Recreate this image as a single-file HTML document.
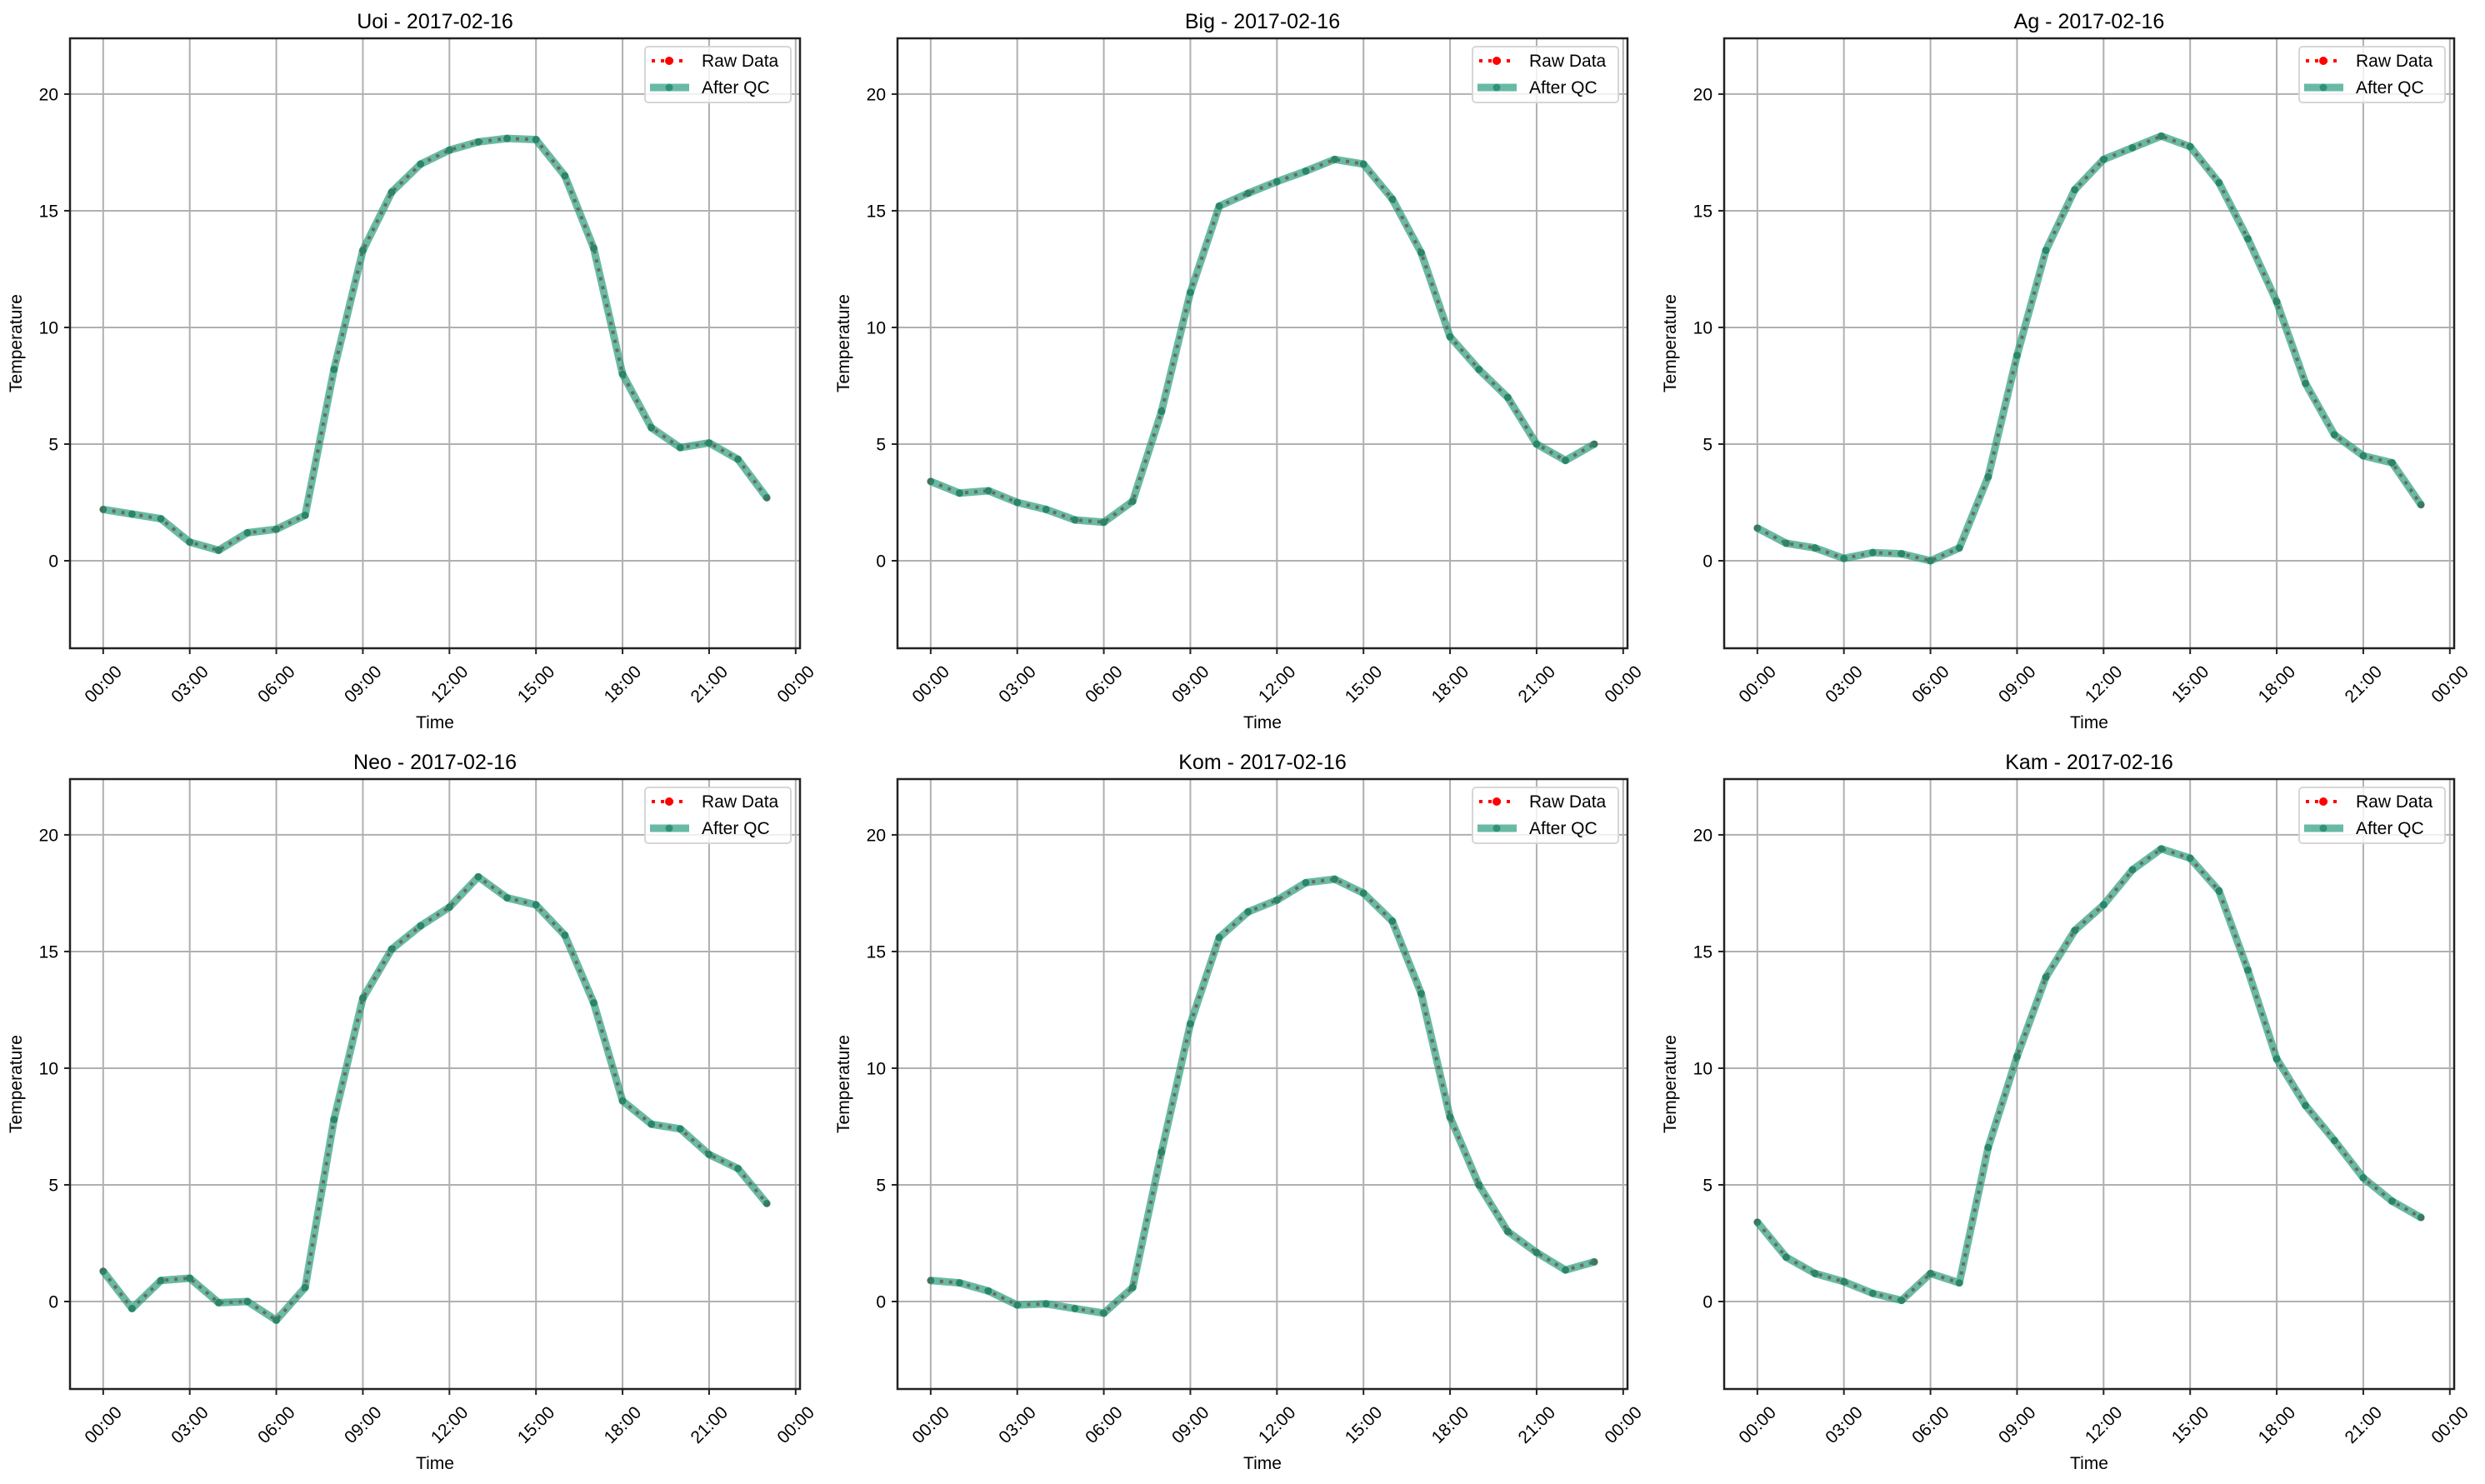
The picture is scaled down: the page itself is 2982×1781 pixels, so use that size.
<!DOCTYPE html>
<html><head><meta charset="utf-8"><style>
html,body{margin:0;padding:0;background:#fff;}
svg{display:block;font-family:"Liberation Sans","DejaVu Sans",sans-serif;}
</style></head><body>
<svg id="fig" width="2982" height="1781" viewBox="0 0 2982 1781" xmlns="http://www.w3.org/2000/svg"></svg>
<script>
const stations = ["Uoi","Big","Ag","Neo","Kom","Kam"];
const dateLabel = "2017-02-16";
const hours = [0,1,2,3,4,5,6,7,8,9,10,11,12,13,14,15,16,17,18,19,20,21,22,23];
const uoiTemps = [2.2,2.0,1.8,0.8,0.45,1.2,1.35,1.95,8.2,13.3,15.8,17.0,17.6,17.95,18.1,18.05,16.5,13.4,8.0,5.7,4.85,5.05,4.35,2.7];
const bigTemps = [3.4,2.9,3.0,2.5,2.2,1.75,1.65,2.55,6.4,11.5,15.2,15.75,16.25,16.7,17.2,17.0,15.5,13.2,9.6,8.2,7.0,5.0,4.3,5.0];
const agTemps = [1.4,0.75,0.55,0.1,0.35,0.3,0.0,0.55,3.6,8.8,13.3,15.9,17.2,17.7,18.2,17.75,16.2,13.8,11.1,7.6,5.4,4.5,4.2,2.4];
const neoTemps = [1.3,-0.3,0.9,1.0,-0.05,0.0,-0.8,0.6,7.8,13.0,15.1,16.1,16.9,18.2,17.3,17.0,15.7,12.8,8.6,7.6,7.4,6.3,5.7,4.2];
const komTemps = [0.9,0.8,0.45,-0.15,-0.1,-0.3,-0.5,0.6,6.4,11.9,15.6,16.7,17.2,17.95,18.1,17.5,16.3,13.2,7.9,5.0,3.0,2.1,1.35,1.7];
const kamTemps = [3.4,1.9,1.2,0.85,0.35,0.05,1.2,0.8,6.6,10.5,13.9,15.9,17.0,18.5,19.4,19.0,17.6,14.2,10.4,8.4,6.9,5.3,4.3,3.6];
const xTickHours = [0,3,6,9,12,15,18,21,24];
const xTickLabels = ["00:00","03:00","06:00","09:00","12:00","15:00","18:00","21:00","00:00"];
const yTicks = [0,5,10,15,20];
const yTickLabels = ["0","5","10","15","20"];

const seriesList = [uoiTemps,bigTemps,agTemps,neoTemps,komTemps,kamTemps];
const NS="http://www.w3.org/2000/svg";
const svg=document.getElementById('fig');
function mk(tag,attrs,parent){const e=document.createElementNS(NS,tag);for(const k in attrs)e.setAttribute(k,attrs[k]);(parent||svg).appendChild(e);return e;}

const PW=876, PH=732;
const colX=[84,1077,2069], rowY=[46,935];
const xMin=-1.15, xMax=24.15, yMin=-3.75, yMax=22.39;
const QC='#2a9d7f';

seriesList.forEach((vals,i)=>{
  const L=colX[i%3], T=rowY[Math.floor(i/3)];
  const sx=h=>L+(h-xMin)/(xMax-xMin)*PW;
  const sy=v=>T+PH-(v-yMin)/(yMax-yMin)*PH;
  const g=mk('g',{});
  
  
  xTickHours.forEach(h=>{const l=mk('line',{x1:sx(h),x2:sx(h),y1:T,y2:T+PH,stroke:'#b0b0b0','stroke-width':2},g);
    });
  yTicks.forEach(v=>{const l=mk('line',{x1:L,x2:L+PW,y1:sy(v),y2:sy(v),stroke:'#b0b0b0','stroke-width':2},g);
    });
  const pts=hours.map((h,k)=>sx(h)+','+sy(vals[k])).join(' ');
  const raw=mk('polyline',{points:pts,fill:'none',stroke:'#ff0000','stroke-width':4,'stroke-dasharray':'4 7'},g);
  
  hours.forEach((h,k)=>{const c=mk('circle',{cx:sx(h),cy:sy(vals[k]),r:4,fill:'#ff0000'},g);
    });
  const qc=mk('polyline',{points:pts,fill:'none',stroke:QC,'stroke-opacity':0.7,'stroke-width':9,'stroke-linejoin':'round'},g);
  
  hours.forEach((h,k)=>{const c=mk('circle',{cx:sx(h),cy:sy(vals[k]),r:4.5,fill:'#1e8a6a','fill-opacity':0.8},g);
    });
  const fr=mk('rect',{x:L,y:T,width:PW,height:PH,fill:'none',stroke:'#222','stroke-width':2.5},g);
  
  xTickHours.forEach((h,k)=>{
    const tk=mk('line',{x1:sx(h),x2:sx(h),y1:T+PH,y2:T+PH+7,stroke:'#222','stroke-width':2},g);
    
    const cx=sx(h), cy=T+PH+43;
    const t=mk('text',{x:cx,y:cy+7,'text-anchor':'middle','font-size':21,fill:'#000',transform:`rotate(-45 ${cx} ${cy})`},g);
    t.textContent=xTickLabels[k];
    
  });
  yTicks.forEach((v,k)=>{
    const tk=mk('line',{x1:L-7,x2:L,y1:sy(v),y2:sy(v),stroke:'#222','stroke-width':2},g);
    
    const t=mk('text',{x:L-14,y:sy(v)+7.5,'text-anchor':'end','font-size':21,fill:'#000'},g);
    t.textContent=yTickLabels[k];
    
  });
  const ti=mk('text',{x:L+PW/2,y:T-12,'text-anchor':'middle','font-size':25,fill:'#000'},g);
  ti.textContent=stations[i]+' - '+dateLabel;
  
  const xl=mk('text',{x:L+PW/2,y:T+PH+96,'text-anchor':'middle','font-size':21,fill:'#000'},g);
  xl.textContent='Time';
  
  const yx=L-58, yy=T+PH/2;
  const yl=mk('text',{x:yx,y:yy,'text-anchor':'middle','font-size':21,fill:'#000',transform:`rotate(-90 ${yx} ${yy})`},g);
  yl.textContent='Temperature';
  
  const lx=L+PW-186, ly=T+10;
  const lg=mk('g',{},g);
  
  mk('rect',{x:lx,y:ly,width:175,height:67,rx:4,fill:'#fff','fill-opacity':0.8,stroke:'#d6d6d6','stroke-width':2},lg);
  mk('line',{x1:lx+8,x2:lx+46,y1:ly+17,y2:ly+17,stroke:'#ff0000','stroke-width':4,'stroke-dasharray':'4 7'},lg);
  mk('circle',{cx:lx+29,cy:ly+17,r:5,fill:'#ff0000'},lg);
  const t1=mk('text',{x:lx+68,y:ly+24,'font-size':21,fill:'#000'},lg);t1.textContent='Raw Data';
  
  mk('line',{x1:lx+6,x2:lx+53,y1:ly+49,y2:ly+49,stroke:QC,'stroke-opacity':0.7,'stroke-width':9},lg);
  mk('circle',{cx:lx+29,cy:ly+49,r:4.5,fill:'#1e8a6a','fill-opacity':0.8},lg);
  const t2=mk('text',{x:lx+68,y:ly+56,'font-size':21,fill:'#000'},lg);t2.textContent='After QC';
  
});
</script>
</body></html>
